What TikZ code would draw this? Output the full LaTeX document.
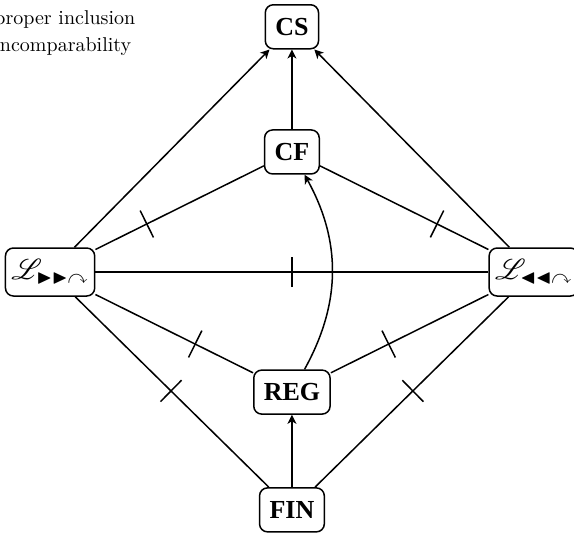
\documentclass[tikz,border=0pt]{standalone}
\usepackage{amssymb}
\usepackage{mathrsfs}
\usepackage{fontspec}
\newfontfamily\classfont{Liberation Serif}
\usetikzlibrary{arrows.meta}

\begin{document}
\begin{tikzpicture}[
    >={Stealth[length=4.5pt, width=4.5pt, inset=1.3pt]},
    cls/.style={draw, rounded corners=4pt, line width=0.75pt,
                minimum height=22pt, inner xsep=5pt,
                font=\classfont\bfseries\fontsize{13}{15}\selectfont},
    lang/.style={draw, rounded corners=4pt, line width=0.75pt,
                 minimum height=24pt, minimum width=44.5pt, inner xsep=3pt,
                 font=\Large},
    incl/.style={->, line width=0.75pt},
    incomp/.style={line width=0.75pt},
    tickmark/.pic={\draw[line width=0.75pt] (0,-7.5pt) -- (0,7.5pt);},
]
\clip (0,0) rectangle (10.087,-9.419);

% Classes
\node[cls]  (CS)  at (5.13, -0.47) {CS};
\node[cls]  (CF)  at (5.13, -2.67) {CF};
\node[lang] (Ll)  at (0.88, -4.78) {$\mathscr{L}_{\blacktriangleright\blacktriangleright\curvearrowright}$};
\node[lang] (Lr)  at (9.38, -4.78) {$\mathscr{L}_{\blacktriangleleft\blacktriangleleft\curvearrowright}$};
\node[cls]  (REG) at (5.13, -6.89) {REG};
\node[cls]  (FIN) at (5.13, -8.96) {FIN};

% Legend
\node[anchor=base west, inner sep=0pt] (inclText)   at (-0.105, -0.43) {proper inclusion};
\node[anchor=base west, inner sep=0pt] (incompText) at (-0.105, -0.91) {incomparability};

% Inclusions
\draw[incl] (Ll) -- (CS);
\draw[incl] (CF) -- (CS);
\draw[incl] (Lr) -- (CS);
\draw[incl] (FIN) -- (REG);
\draw[incl] (REG) to[bend right=29] (CF);

% Incomparabilities
\draw[incomp] (Ll) -- (CF);
\path (Ll.center) -- (CF.center) pic[pos=0.4, sloped] {tickmark};
\draw[incomp] (Lr) -- (CF);
\path (Lr.center) -- (CF.center) pic[pos=0.4, sloped] {tickmark};
\draw[incomp] (Ll) -- (Lr);
\path (Ll.center) -- (Lr.center) pic[pos=0.5, sloped] {tickmark};
\draw[incomp] (Ll) -- (REG);
\path (Ll.center) -- (REG.center) pic[pos=0.6, sloped] {tickmark};
\draw[incomp] (Lr) -- (REG);
\path (Lr.center) -- (REG.center) pic[pos=0.6, sloped] {tickmark};
\draw[incomp] (Ll) -- (FIN);
\path (Ll.center) -- (FIN.center) pic[pos=0.5, sloped] {tickmark};
\draw[incomp] (Lr) -- (FIN);
\path (Lr.center) -- (FIN.center) pic[pos=0.5, sloped] {tickmark};

\end{tikzpicture}
\end{document}
